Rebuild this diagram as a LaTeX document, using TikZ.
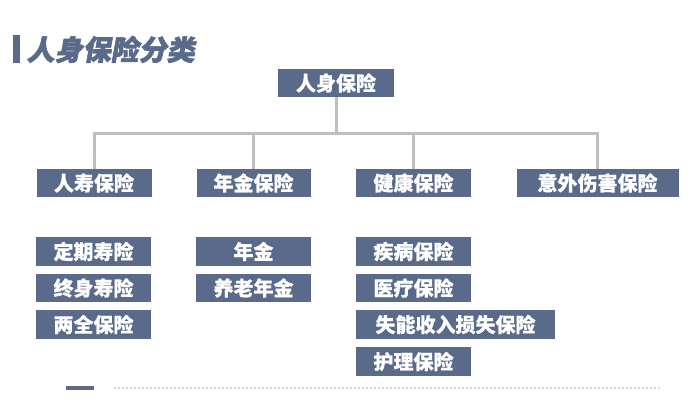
\documentclass[tikz,border=0pt]{standalone}
\usepackage{fontspec}
\newfontfamily\cjk[FakeBold=0.6]{Noto Sans CJK SC}
\newfontfamily\titlefont[FakeSlant=0.18,FakeBold=2.2]{Noto Sans CJK SC}
\definecolor{boxc}{HTML}{5A6A8A}
\definecolor{linec}{HTML}{BFBFBF}
\definecolor{dotc}{HTML}{D9D9D9}
\begin{document}
\begin{tikzpicture}[x=1pt,y=-1pt,
  box/.style={fill=boxc,text=white,inner sep=0pt,minimum height=28.5pt,
    font=\cjk\bfseries\fontsize{20}{21}\selectfont},
  conn/.style={draw=linec,line width=3pt}]
\useasboundingbox (0,0) rectangle (691,413);
% title
\fill[boxc] (13,35) rectangle (20,63);
\node[anchor=west,text=boxc,inner sep=0pt,font=\titlefont\bfseries\fontsize{28}{29}\selectfont] (title) at (26.5,49.5) {人身保险分类};
% root
\node[box,minimum width=116pt] (root) at (336,83) {人身保险};
% level 2
\node[box,minimum width=115pt] (a) at (94,183) {人寿保险};
\node[box,minimum width=114pt] (b) at (253.5,183) {年金保险};
\node[box,minimum width=115pt] (c) at (413.5,183) {健康保险};
\node[box,minimum width=162pt] (d) at (597.5,183) {意外伤害保险};
\coordinate (bus) at (0,133);
\draw[conn] (root.south) -- (root.south |- bus);
\draw[conn] (a.north) -- (a.north |- bus) -- (d.north |- bus) -- (d.north);
\draw[conn] (b.north) -- (b.north |- bus);
\draw[conn] (c.north) -- (c.north |- bus);
% level 3
\node[box,minimum width=115pt] (a1) at (93.5,251.5) {定期寿险};
\node[box,minimum width=115pt] (a2) at (93.5,288) {终身寿险};
\node[box,minimum width=115pt] (a3) at (93.5,324.5) {两全保险};
\node[box,minimum width=115pt] (b1) at (253.5,251.5) {年金};
\node[box,minimum width=115pt] (b2) at (253.5,288) {养老年金};
\node[box,minimum width=115pt] (c1) at (413.5,251.5) {疾病保险};
\node[box,minimum width=115pt] (c2) at (413.5,288) {医疗保险};
\node[box,minimum width=199pt] (c3) at (455.5,324.5) {失能收入损失保险};
\node[box,minimum width=115pt] (c4) at (413.5,361.5) {护理保险};
% footer
\fill[boxc] (66,386) rectangle (94,390);
\draw[dotc,line width=1.2pt,dash pattern=on 2pt off 2pt] (114,388) -- (660,388);
\end{tikzpicture}
\end{document}
